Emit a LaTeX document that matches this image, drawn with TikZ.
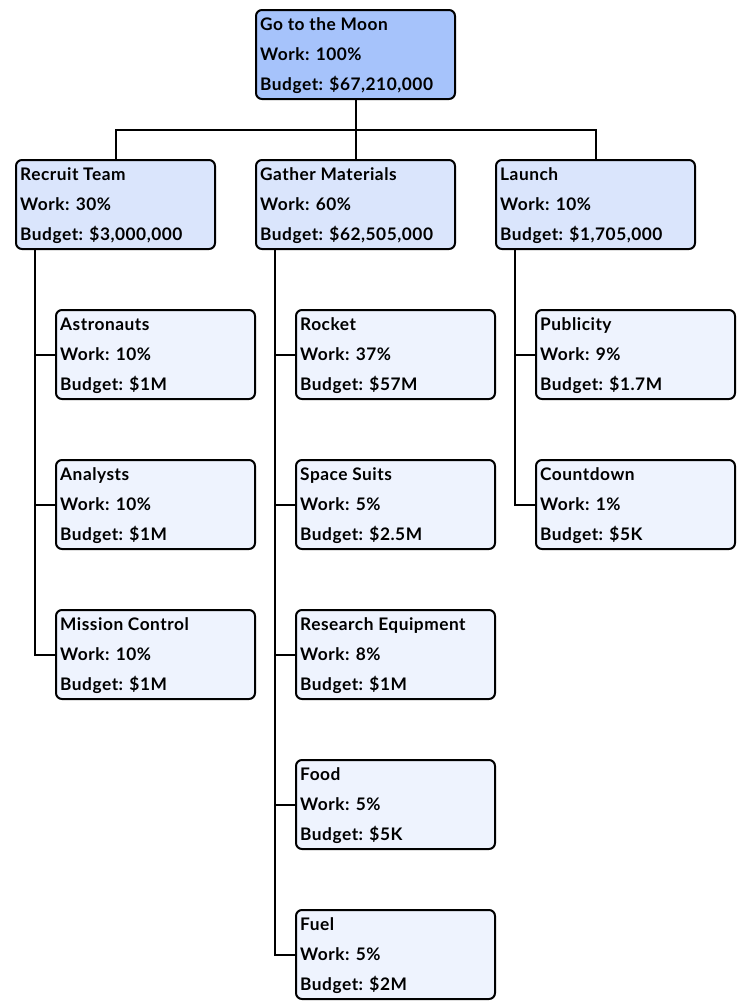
\documentclass[tikz,border=0pt]{standalone}
\usepackage{fontspec}
\setmainfont{Lato}
\newfontfamily\boxfont{Lato Bold}[LetterSpace=3]
\definecolor{topfill}{HTML}{A6C3FB}
\definecolor{midfill}{HTML}{DAE5FC}
\definecolor{leaffill}{HTML}{EEF3FE}
\tikzset{
  box/.style={draw=black, line width=2pt, rounded corners=6pt, minimum width=199pt, minimum height=89pt, anchor=north west, inner sep=0pt},
  txt/.style={anchor=base west, inner sep=0pt, font=\boxfont\fontsize{17.3}{18}\selectfont},
  conn/.style={draw=black, line width=2pt}
}
\newcommand{\wbsnode}[7]{%
  \node[box, fill=#4] (#1) at (#2,#3) {};
  \node[txt] (#1-a) at ([xshift=5pt,yshift=-21pt]#1.north west) {#5};
  \node[txt] (#1-b) at ([xshift=5pt,yshift=-51pt]#1.north west) {#6};
  \node[txt] (#1-c) at ([xshift=5pt,yshift=-81pt]#1.north west) {#7};
}
\begin{document}
\begin{tikzpicture}[x=1pt,y=-1pt]
\useasboundingbox (0,0) rectangle (752,1005);
\wbsnode{moon}{255}{9}{topfill}{Go to the Moon}{Work: 100\%}{Budget: \$67,210,000}
\wbsnode{rt}{15}{159}{midfill}{Recruit Team}{Work: 30\%}{Budget: \$3,000,000}
\wbsnode{gm}{255}{159}{midfill}{Gather Materials}{Work: 60\%}{Budget: \$62,505,000}
\wbsnode{la}{495}{159}{midfill}{Launch}{Work: 10\%}{Budget: \$1,705,000}
\wbsnode{as}{55}{309}{leaffill}{Astronauts}{Work: 10\%}{Budget: \$1M}
\wbsnode{an}{55}{459}{leaffill}{Analysts}{Work: 10\%}{Budget: \$1M}
\wbsnode{mc}{55}{609}{leaffill}{Mission Control}{Work: 10\%}{Budget: \$1M}
\wbsnode{ro}{295}{309}{leaffill}{Rocket}{Work: 37\%}{Budget: \$57M}
\wbsnode{ss}{295}{459}{leaffill}{Space Suits}{Work: 5\%}{Budget: \$2.5M}
\wbsnode{re}{295}{609}{leaffill}{Research Equipment}{Work: 8\%}{Budget: \$1M}
\wbsnode{fo}{295}{759}{leaffill}{Food}{Work: 5\%}{Budget: \$5K}
\wbsnode{fu}{295}{909}{leaffill}{Fuel}{Work: 5\%}{Budget: \$2M}
\wbsnode{pu}{535}{309}{leaffill}{Publicity}{Work: 9\%}{Budget: \$1.7M}
\wbsnode{cd}{535}{459}{leaffill}{Countdown}{Work: 1\%}{Budget: \$5K}
% top-level connectors
\coordinate (bus) at ([yshift=-30pt]moon.south);
\draw[conn] (moon.south) -- (bus);
\draw[conn] (rt.north) |- (bus);
\draw[conn] (la.north) |- (bus);
\draw[conn] (gm.north) -- (bus);
% Recruit Team children
\coordinate (rtx) at ([xshift=20pt]rt.south west);
\draw[conn] (rtx) |- (mc.west);
\draw[conn] (rtx |- as.west) -- (as.west);
\draw[conn] (rtx |- an.west) -- (an.west);
% Gather Materials children
\coordinate (gmx) at ([xshift=20pt]gm.south west);
\draw[conn] (gmx) |- (fu.west);
\draw[conn] (gmx |- ro.west) -- (ro.west);
\draw[conn] (gmx |- ss.west) -- (ss.west);
\draw[conn] (gmx |- re.west) -- (re.west);
\draw[conn] (gmx |- fo.west) -- (fo.west);
% Launch children
\coordinate (lax) at ([xshift=20pt]la.south west);
\draw[conn] (lax) |- (cd.west);
\draw[conn] (lax |- pu.west) -- (pu.west);
\end{tikzpicture}
\end{document}
